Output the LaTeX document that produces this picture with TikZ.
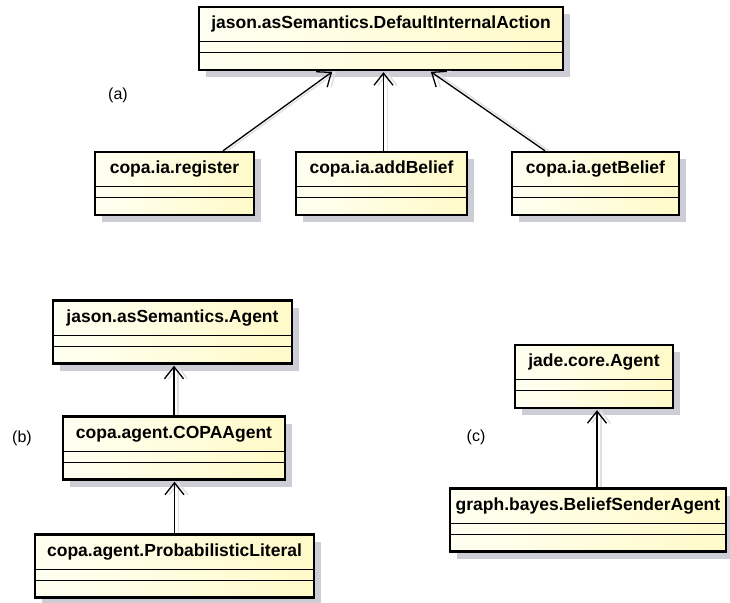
\documentclass[tikz,border=0pt]{standalone}
\usepackage{fontspec}
\setmainfont{Liberation Sans}
\usetikzlibrary{arrows.meta,shadows,positioning}

\definecolor{creamL}{RGB}{255,255,242}
\definecolor{creamR}{RGB}{255,250,200}
\definecolor{shadowgray}{RGB}{205,205,214}

\tikzset{
  classbox/.style={draw, line width=2.4pt, left color=creamL, right color=creamR,
    minimum height=63pt, inner sep=0pt,
    drop shadow={shadow xshift=7pt, shadow yshift=-7pt, fill=shadowgray, opacity=1}},
  classname/.style={anchor=north, font=\fontsize{17.5}{20}\selectfont\bfseries,
    text height=12.5pt, text depth=3.5pt, minimum height=36pt, inner sep=0pt},
  sublabel/.style={font=\fontsize{16}{19}\selectfont},
  compart/.style={line width=1.2pt},
  inherit/.style={-{Straight Barb[length=12pt,width=19pt]}, line width=1.3pt, shorten >=1pt,
    preaction={draw=black!12, line width=1.5pt, transform canvas={xshift=4pt}}},
}

\begin{document}
\begin{tikzpicture}[x=1pt,y=-1pt]
  \useasboundingbox (0,0) rectangle (730,602);

  % (a) internal actions
  \node[classbox, minimum width=364pt] (dia) at (381,38.5) {};
  \node[classbox, minimum width=159pt] (reg) at (174.5,183.5) {};
  \node[classbox, minimum width=171pt] (addb) at (381.5,183.5) {};
  \node[classbox, minimum width=167pt] (getb) at (595.5,183.5) {};
  % (b) agent classes
  \node[classbox, minimum width=239pt] (jagent) at (172.5,332) {};
  \node[classbox, minimum width=222pt] (copa) at (174,448) {};
  \node[classbox, minimum width=279pt] (problit) at (174.5,566) {};
  % (c) jade agent
  \node[classbox, minimum width=158pt] (jade) at (594,376.5) {};
  \node[classbox, minimum width=276pt] (sender) at (588,520) {};

  \foreach \n/\t in {dia/jason.asSemantics.DefaultInternalAction,
      reg/copa.ia.register, addb/copa.ia.addBelief, getb/copa.ia.getBelief,
      jagent/jason.asSemantics.Agent, copa/copa.agent.COPAAgent,
      problit/copa.agent.ProbabilisticLiteral, jade/jade.core.Agent,
      sender/graph.bayes.BeliefSenderAgent} {
    \node[classname] (\n-name) at (\n.north) {\t};
    \draw[compart] ([yshift=-36pt]\n.north west) -- ([yshift=-36pt]\n.north east);
    \draw[compart] ([yshift=-47pt]\n.north west) -- ([yshift=-47pt]\n.north east);
  }

  \node[sublabel] (lbl-a) at (118,95) {(a)};
  \node[sublabel] (lbl-b) at (22,438) {(b)};
  \node[sublabel] (lbl-c) at (476,437) {(c)};

  \draw[inherit] ([xshift=48.5pt]reg.north) -- ([xshift=-48pt]dia.south);
  \draw[inherit] ([xshift=2pt]addb.north) -- ([xshift=2pt]addb.north |- dia.south);
  \draw[inherit] ([xshift=-50.5pt]getb.north) -- ([xshift=49pt]dia.south);
  \draw[inherit] (copa.north) -- (copa.north |- jagent.south);
  \draw[inherit] (problit.north) -- (problit.north |- copa.south);
  \draw[inherit] ([xshift=3pt]jade.south |- sender.north) -- ([xshift=3pt]jade.south);
\end{tikzpicture}
\end{document}
